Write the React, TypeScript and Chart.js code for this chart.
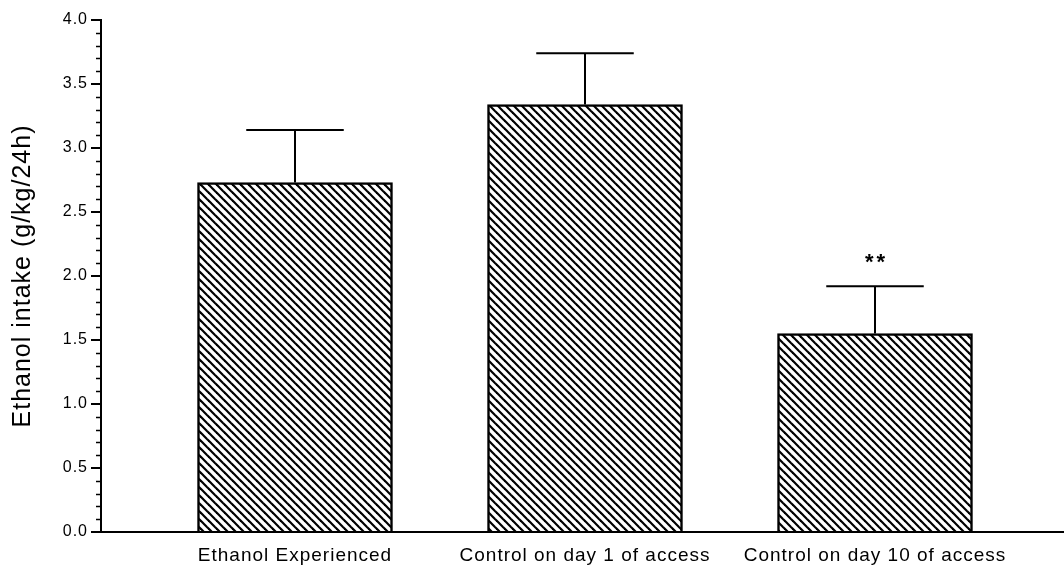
import React, { useEffect, useRef } from 'react';
import { Chart, registerables } from 'chart.js';

Chart.register(...registerables);

// ---- data ----
const categories = ['Ethanol Experienced', 'Control on day 1 of access', 'Control on day 10 of access'];
const means = [2.73, 3.34, 1.55];
const sem = [0.41, 0.40, 0.37];
const significance = ['', '', '**'];
const yMin = 0;
const yMax = 4;
const yMajorStep = 0.5;
const yMinorStep = 0.1;
const yTitle = 'Ethanol intake (g/kg/24h)';

const FONT = '"Liberation Sans", Arial, Helvetica, sans-serif';

function makeHatch(): CanvasPattern | string {
  const c = document.createElement('canvas');
  c.width = 8;
  c.height = 8;
  const g = c.getContext('2d');
  if (!g) return '#fff';
  g.fillStyle = '#fff';
  g.fillRect(0, 0, 8, 8);
  g.strokeStyle = '#000';
  g.lineWidth = 2.2;
  for (const k of [-8, 0, 8]) {
    g.beginPath();
    g.moveTo(-2, -2 + k);
    g.lineTo(10, 10 + k);
    g.stroke();
  }
  return g.createPattern(c, 'repeat') || '#fff';
}

const spacingPlugin = {
  id: 'spacing',
  beforeDraw(chart: any) {
    chart.ctx.letterSpacing = '1px';
  },
};

const minorTicksPlugin = {
  id: 'minorTicks',
  afterDraw(chart: any) {
    const y = chart.scales.y;
    const ctx = chart.ctx;
    ctx.save();
    ctx.strokeStyle = '#000';
    ctx.lineWidth = 1.5;
    const n = Math.round((yMax - yMin) / yMinorStep);
    for (let i = 0; i <= n; i++) {
      const v = yMin + i * yMinorStep;
      const r = v / yMajorStep;
      if (Math.abs(r - Math.round(r)) < 1e-6) continue;
      const py = Math.round(y.getPixelForValue(v)) + 0.5;
      ctx.beginPath();
      ctx.moveTo(y.right - 5, py);
      ctx.lineTo(y.right, py);
      ctx.stroke();
    }
    ctx.restore();
  },
};

const errorBarPlugin = {
  id: 'errorBars',
  afterDatasetsDraw(chart: any) {
    const ctx = chart.ctx;
    const xs = chart.scales.x;
    const ys = chart.scales.y;
    const meta = chart.getDatasetMeta(0);
    ctx.save();
    ctx.strokeStyle = '#000';
    ctx.lineWidth = 2;
    means.forEach((m, i) => {
      const x = xs.getPixelForValue(i + 1);
      const yBar = ys.getPixelForValue(m);
      const yTop = ys.getPixelForValue(m + sem[i]);
      const half = meta.data[i].width / 4;
      ctx.beginPath();
      ctx.moveTo(x, yBar);
      ctx.lineTo(x, yTop);
      ctx.moveTo(x - half, yTop);
      ctx.lineTo(x + half, yTop);
      ctx.stroke();
      if (significance[i]) {
        ctx.fillStyle = '#000';
        ctx.font = `bold 22px ${FONT}`;
        ctx.letterSpacing = '3px';
        ctx.textAlign = 'center';
        ctx.textBaseline = 'alphabetic';
        ctx.fillText(significance[i], x + 1.5, yTop - 17);
      }
    });
    ctx.restore();
  },
};

export default function App() {
  const ref = useRef<HTMLCanvasElement | null>(null);

  useEffect(() => {
    if (!ref.current) return;
    const hatch = makeHatch();
    const chart = new Chart(ref.current, {
      type: 'bar',
      data: {
        datasets: [
          {
            data: means.map((m, i) => ({ x: i + 1, y: m })),
            backgroundColor: hatch as any,
            borderColor: '#000',
            borderWidth: 2.5,
            barThickness: 195,
          },
        ],
      },
      options: {
        responsive: false,
        animation: false,
        layout: { padding: { top: 20, right: 0, left: 0, bottom: 0 } },
        plugins: { legend: { display: false }, tooltip: { enabled: false } },
        scales: {
          x: {
            type: 'linear',
            min: 1 - 194 / 290,
            max: 1 + 769 / 290,
            offset: false,
            grid: { display: false, drawTicks: false },
            border: { display: true, color: '#000', width: 2 },
            afterBuildTicks(scale: any) {
              scale.ticks = categories.map((_, i) => ({ value: i + 1 }));
            },
            afterFit(scale: any) {
              scale.height = 41;
            },
            ticks: {
              color: '#000',
              font: { family: FONT, size: 19 },
              padding: 12,
              maxRotation: 0,
              autoSkip: false,
              callback: (v: any) => {
                const idx = Math.round(Number(v)) - 1;
                return categories[idx] ?? '';
              },
            },
          },
          y: {
            type: 'linear',
            min: yMin,
            max: yMax,
            grid: {
              display: true,
              drawOnChartArea: false,
              drawTicks: true,
              tickLength: 10,
              color: '#000',
              lineWidth: 2,
            },
            border: { display: true, color: '#000', width: 2 },
            afterFit(scale: any) {
              scale.width = 101;
            },
            ticks: {
              stepSize: yMajorStep,
              color: '#000',
              padding: 3,
              font: { family: FONT, size: 16 },
              callback: (v: any) => Number(v).toFixed(1),
            },
            title: {
              display: true,
              text: yTitle,
              color: '#000',
              font: { family: FONT, size: 25 },
              padding: { top: 8, bottom: 0 },
            },
          },
        },
      },
      plugins: [spacingPlugin, minorTicksPlugin, errorBarPlugin],
    });
    return () => chart.destroy();
  }, []);

  return (
    <div style={{ position: 'fixed', left: 0, top: 0, width: 1064, height: 573, background: '#fff' }}>
      <canvas ref={ref} width={1064} height={573} style={{ display: 'block' }} />
    </div>
  );
}
